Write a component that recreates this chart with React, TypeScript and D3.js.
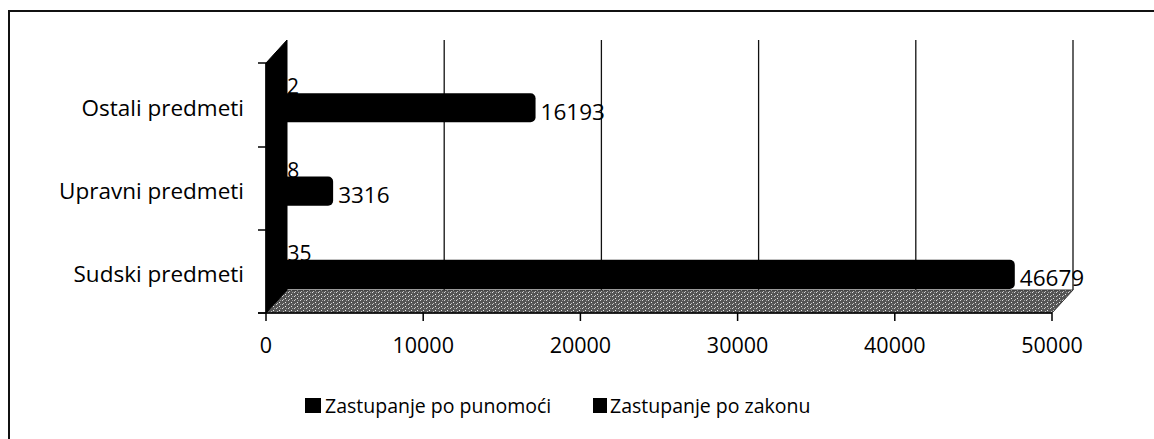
import * as d3 from "d3";

const categories = ["Sudski predmeti", "Upravni predmeti", "Ostali predmeti"];
const seriesNames = ["Zastupanje po punomoći", "Zastupanje po zakonu"];
const punomoci = [35, 8, 2];
const zakonu = [46679, 3316, 16193];
const xTicks = [0, 10000, 20000, 30000, 40000, 50000];

const W = 1154;
const H = 439;
const FONT = "'Open Sans', sans-serif";

export default function App() {
    // front plane of the 3d box, back plane is shifted by depth
    const depthX = 21;
    const depthY = -23;
    const x = d3.scaleLinear([0, 50000], [266, 1052]);
    const y = d3.scaleBand(categories, [313, 63]).paddingInner(0.3).paddingOuter(0.15);
    const yBounds = [313, 230, 147, 63];
    const barDx = 15;
    const midY = depthY / 2;
    const bw = y.bandwidth() / 2;

    const x0 = x(0);
    const yTop = 63;
    const yBot = 313;
    const barStart = x0 + 6;

    return (
        <svg width={W} height={H} style={{ position: "absolute", left: 0, top: 0, background: "white" }} fontFamily={FONT}>
            <defs>
                <pattern id="stip" width="6" height="4" patternUnits="userSpaceOnUse">
                    <rect width="6" height="4" fill="#555" />
                    <rect x="0" y="0" width="1" height="1" fill="#d8d8d8" />
                    <rect x="3" y="2" width="1" height="1" fill="#eee" />
                    <rect x="4" y="0" width="1" height="1" fill="#999" />
                    <rect x="1" y="3" width="1" height="1" fill="#bbb" />
                </pattern>
            </defs>
            <path d={`M9,${H} V11 H${W}`} fill="none" stroke="#111" strokeWidth={2} />

            {/* gridlines on back wall */}
            {xTicks.slice(1).map((t) => (
                <line key={t} x1={x(t) + depthX} x2={x(t) + depthX} y1={yTop + depthY} y2={yBot + depthY} stroke="#111" strokeWidth={1.3} />
            ))}

            {/* floor */}
            <path
                d={`M${x0},${yBot} L${x0 + depthX},${yBot + depthY} L${x(50000) + depthX},${yBot + depthY} L${x(50000)},${yBot} Z`}
                fill="url(#stip)"
                stroke="#333"
                strokeWidth={1}
            />

            {/* left wall */}
            <path
                d={`M${x0},${yTop} L${x0 + depthX},${yTop + depthY} L${x0 + depthX},${yBot + depthY} L${x0},${yBot} Z`}
                fill="#000"
                stroke="#000"
            />

            {/* axes */}
            <line x1={258} x2={x(50000)} y1={yBot} y2={yBot} stroke="#000" strokeWidth={1.5} />
            <line x1={x0} x2={x0} y1={yTop} y2={yBot} stroke="#000" strokeWidth={1.5} />
            {yBounds.map((b) => (
                <line key={b} x1={258} x2={x0} y1={b} y2={b} stroke="#000" strokeWidth={1.5} />
            ))}
            {xTicks.map((t) => (
                <g key={t}>
                    <line x1={x(t)} x2={x(t)} y1={yBot} y2={yBot + 8} stroke="#000" strokeWidth={1.5} />
                    <text x={x(t)} y={353} textAnchor="middle" fontSize={21.5} fill="#000">
                        {t}
                    </text>
                </g>
            ))}

            {/* category labels */}
            {categories.map((c) => (
                <text key={c} x={244} y={(y(c) ?? 0) + y.bandwidth() / 2 + 11} textAnchor="end" fontSize={22.5} fill="#000">
                    {c}
                </text>
            ))}

            {/* bars */}
            {categories.map((c, i) => {
                const b0 = (y(c) ?? 0) + midY;
                const top2 = b0 + bw;
                const end2 = x(zakonu[i]) + barDx;
                const end1 = x(punomoci[i]) + barDx;
                return (
                    <g key={c}>
                        <rect x={barStart} y={b0} width={end1 - barStart} height={bw} fill="#000" />
                        <rect x={barStart} y={top2} width={end2 - barStart} height={bw} rx={5} fill="#000" />
                        <text x={end1 + 6} y={top2 + 1} fontSize={21} fill="#000">
                            {punomoci[i]}
                        </text>
                        <text x={end2 + 5} y={top2 + bw / 2 + 6} dominantBaseline="middle" fontSize={22.5} fill="#000">
                            {zakonu[i]}
                        </text>
                    </g>
                );
            })}

            {/* legend */}
            <rect x={305} y={398} width={16} height={15} fill="#000" />
            <text x={325} y={413} fontSize={19.5} fill="#000">{seriesNames[0]}</text>
            <rect x={593} y={398} width={14} height={15} fill="#000" />
            <text x={610} y={413} fontSize={19.5} fill="#000">{seriesNames[1]}</text>
        </svg>
    );
}
